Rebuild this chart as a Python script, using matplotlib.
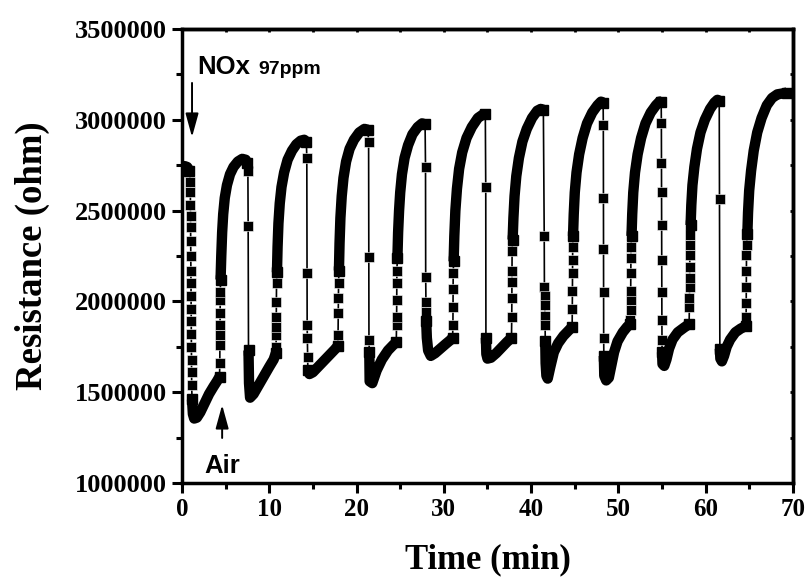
import numpy as np
import matplotlib.pyplot as plt
from matplotlib.ticker import MultipleLocator

# resistance, in units of 1e6 ohm, time in min
# slowly changing stretches (densely sampled): A0, G1, A1, G2, A2, ... G10, A10
band_t = [
    [0.0, 0.3, 0.6, 0.85],
    [1.15, 1.25, 1.4, 1.7, 2.1, 2.6, 3.1, 3.6, 4.0, 4.3],
    [4.42, 4.5, 4.6, 4.72, 4.9, 5.15, 5.5, 5.9, 6.4, 6.9, 7.3, 7.5],
    [7.62, 7.68, 7.8, 8.2, 8.8, 9.4, 10.0, 10.5, 10.75],
    [10.88, 10.95, 11.05, 11.2, 11.4, 11.7, 12.1, 12.6, 13.1, 13.6, 14.0, 14.25],
    [14.42, 14.6, 15.0, 15.5, 16.0, 16.5, 17.0, 17.5, 17.85],
    [17.98, 18.05, 18.15, 18.3, 18.5, 18.8, 19.2, 19.7, 20.3, 20.9, 21.3],
    [21.46, 21.5, 21.8, 22.3, 22.9, 23.6, 24.2, 24.55],
    [24.68, 24.76, 24.87, 25.0, 25.2, 25.5, 25.9, 26.4, 27.0, 27.5, 27.85],
    [27.98, 28.05, 28.2, 28.5, 29.0, 29.6, 30.2, 30.7, 31.0],
    [31.12, 31.2, 31.32, 31.5, 31.75, 32.1, 32.6, 33.2, 33.9, 34.5, 34.75],
    [34.82, 34.87, 35.0, 35.4, 36.0, 36.6, 37.2, 37.75],
    [37.88, 37.97, 38.1, 38.3, 38.6, 39.0, 39.5, 40.1, 40.7, 41.1, 41.4],
    [41.62, 41.66, 41.75, 41.9, 42.2, 42.6, 43.1, 43.7, 44.3, 44.7],
    [44.8, 44.88, 45.0, 45.2, 45.5, 45.9, 46.4, 47.0, 47.6, 48.0, 48.25],
    [48.33, 48.38, 48.6, 48.9, 49.2, 49.5, 49.9, 50.5, 51.0, 51.35],
    [51.5, 51.58, 51.7, 51.9, 52.2, 52.6, 53.1, 53.7, 54.3, 54.7, 54.9],
    [55.0, 55.05, 55.25, 55.5, 55.8, 56.2, 56.8, 57.5, 58.1],
    [58.27, 58.35, 58.48, 58.7, 59.0, 59.4, 59.9, 60.5, 61.0, 61.35, 61.55],
    [61.62, 61.68, 61.85, 62.1, 62.4, 62.8, 63.4, 64.0, 64.6],
    [64.77, 64.85, 64.98, 65.2, 65.5, 65.9, 66.4, 67.0, 67.6, 68.2, 68.8, 69.3],
]
band_r = [
    [2.73, 2.745, 2.74, 2.72],
    [1.46, 1.38, 1.355, 1.36, 1.39, 1.44, 1.49, 1.53, 1.56, 1.585],
    [2.12, 2.25, 2.38, 2.48, 2.57, 2.64, 2.70, 2.74, 2.77, 2.785, 2.78, 2.76],
    [1.73, 1.55, 1.47, 1.49, 1.54, 1.59, 1.64, 1.68, 1.715],
    [2.16, 2.30, 2.43, 2.54, 2.63, 2.71, 2.78, 2.83, 2.865, 2.885, 2.89, 2.88],
    [1.62, 1.60, 1.61, 1.635, 1.66, 1.685, 1.71, 1.735, 1.755],
    [2.17, 2.32, 2.46, 2.58, 2.68, 2.77, 2.84, 2.89, 2.93, 2.95, 2.945],
    [1.72, 1.56, 1.55, 1.62, 1.68, 1.73, 1.76, 1.775],
    [2.24, 2.38, 2.50, 2.60, 2.70, 2.79, 2.86, 2.92, 2.96, 2.98, 2.975],
    [1.89, 1.80, 1.73, 1.70, 1.715, 1.74, 1.765, 1.785, 1.80],
    [2.22, 2.36, 2.50, 2.62, 2.73, 2.82, 2.90, 2.96, 3.01, 3.03, 3.03],
    [1.80, 1.71, 1.685, 1.69, 1.715, 1.745, 1.775, 1.80],
    [2.34, 2.46, 2.58, 2.69, 2.79, 2.88, 2.95, 3.01, 3.05, 3.06, 3.055],
    [1.78, 1.66, 1.59, 1.575, 1.64, 1.72, 1.77, 1.81, 1.84, 1.86],
    [2.36, 2.48, 2.60, 2.71, 2.81, 2.90, 2.98, 3.04, 3.08, 3.10, 3.095],
    [1.70, 1.59, 1.565, 1.58, 1.65, 1.72, 1.78, 1.83, 1.86, 1.875],
    [2.36, 2.48, 2.60, 2.71, 2.81, 2.90, 2.98, 3.04, 3.08, 3.10, 3.10],
    [1.72, 1.655, 1.645, 1.68, 1.74, 1.79, 1.83, 1.855, 1.875],
    [2.42, 2.53, 2.64, 2.74, 2.84, 2.93, 3.00, 3.06, 3.095, 3.11, 3.105],
    [1.74, 1.685, 1.67, 1.70, 1.75, 1.79, 1.83, 1.85, 1.865],
    [2.37, 2.49, 2.61, 2.72, 2.83, 2.93, 3.01, 3.08, 3.12, 3.14, 3.145, 3.15],
]
# sparse points while the gas is switched: D1, U1, D2, U2, ... D10, U10
step_t = [
    [0.95, 0.96, 0.97, 0.98, 0.99, 1.0, 1.01, 1.02, 1.03, 1.04, 1.05, 1.06, 1.07, 1.08, 1.09, 1.10, 1.11],
    [4.33, 4.34, 4.35, 4.36, 4.37, 4.38, 4.39],
    [7.55, 7.58],
    [10.78, 10.79, 10.8, 10.81, 10.82, 10.83],
    [14.3, 14.32, 14.34, 14.36, 14.38],
    [17.88, 17.9, 17.92, 17.94],
    [21.38, 21.4, 21.42],
    [24.58, 24.59, 24.6, 24.61, 24.62],
    [27.9, 27.92, 27.94, 27.96],
    [31.04, 31.05, 31.06, 31.07],
    [34.8],
    [37.78, 37.79, 37.8, 37.81, 37.82],
    [41.5, 41.52, 41.54, 41.56, 41.58, 41.6],
    [44.72, 44.73, 44.74, 44.75, 44.76],
    [48.27, 48.28, 48.29, 48.3, 48.31],
    [51.38, 51.39, 51.4, 51.41, 51.42, 51.43, 51.44],
    [54.92, 54.93, 54.94, 54.95, 54.96, 54.97, 54.98, 54.99],
    [58.13, 58.14, 58.15, 58.16, 58.17, 58.18, 58.19, 58.2],
    [61.58],
    [64.63, 64.64, 64.65, 64.66, 64.67, 64.68],
]
step_r = [
    [2.66, 2.60, 2.53, 2.47, 2.41, 2.33, 2.25, 2.17, 2.10, 2.03, 1.96, 1.89, 1.82, 1.75, 1.68, 1.61, 1.54],
    [1.66, 1.76, 1.815, 1.87, 1.936, 2.01, 2.05],
    [2.72, 2.415],
    [1.75, 1.815, 1.86, 1.914, 1.997, 2.10],
    [2.79, 2.156, 1.87, 1.80, 1.694],
    [1.815, 1.936, 2.02, 2.10],
    [2.88, 2.245, 1.79],
    [1.87, 1.914, 2.01, 2.10, 2.17],
    [2.74, 2.134, 1.997, 1.94],
    [1.87, 1.97, 2.07, 2.156],
    [2.63],
    [1.914, 2.02, 2.107, 2.17, 2.28],
    [2.36, 2.08, 2.03, 1.98, 1.92, 1.87],
    [1.96, 2.06, 2.156, 2.23, 2.30],
    [2.97, 2.57, 2.29, 2.05, 1.80],
    [1.90, 1.95, 2.01, 2.06, 2.156, 2.24, 2.30],
    [2.98, 2.76, 2.60, 2.42, 2.23, 2.05, 1.90, 1.79],
    [1.97, 2.02, 2.08, 2.13, 2.19, 2.255, 2.31, 2.365],
    [2.565],
    [1.914, 1.99, 2.08, 2.17, 2.255, 2.31],
]

# whole record in time order: band, step, band, step, ..., band
all_t, all_r = [], []
for i in range(len(band_t)):
    all_t += band_t[i]
    all_r += band_r[i]
    if i < len(step_t):
        all_t += step_t[i]
        all_r += step_r[i]
all_t = np.array(all_t)
all_r = np.array(all_r) * 1e6

plt.rcParams['font.family'] = ['Liberation Serif', 'DejaVu Serif']
plt.rcParams['font.weight'] = 'bold'

fig = plt.figure(figsize=(8.11, 5.8), dpi=100)
ax = fig.add_axes([0.2244, 0.1672, 0.7534, 0.7828])

ax.plot(all_t, all_r, '-', color='k', lw=1.2, zorder=2)
for t, r in zip(step_t, step_r):
    ax.plot(t, np.array(r) * 1e6, 's', color='k', ms=6.5, mec='white', mew=0.4, zorder=3)
# dense stretches: squares overlap into a solid band
for t, r in zip(band_t, band_r):
    ax.plot(t, np.array(r) * 1e6, '-s', color='k', lw=7.5, ms=7.5,
            markevery=[0, len(t) - 1],
            solid_capstyle='butt', solid_joinstyle='round', zorder=3)

ax.set_xlim(0, 70)
ax.set_ylim(1000000, 3500000)
ax.xaxis.set_major_locator(MultipleLocator(10))
ax.xaxis.set_minor_locator(MultipleLocator(5))
ax.yaxis.set_major_locator(MultipleLocator(500000))
ax.yaxis.set_minor_locator(MultipleLocator(250000))
ax.yaxis.set_major_formatter(plt.FuncFormatter(lambda v, p: '%d' % v))

for s in ax.spines.values():
    s.set_linewidth(2.5)
ax.tick_params(which='major', direction='out', length=7, width=2.2, pad=4)
ax.tick_params(which='minor', direction='out', length=4, width=2.2)
ax.tick_params(axis='x', labelsize=18)
ax.tick_params(axis='y', labelsize=19)
for lab in ax.get_xticklabels() + ax.get_yticklabels():
    lab.set_fontweight('bold')

# short ticks on the top and right frame
sec_x = ax.secondary_xaxis('top')
sec_x.xaxis.set_major_locator(MultipleLocator(10))
sec_x.xaxis.set_minor_locator(MultipleLocator(5))
sec_x.tick_params(which='both', direction='in', length=2.5, width=2, labeltop=False)
sec_y = ax.secondary_yaxis('right')
sec_y.yaxis.set_major_locator(MultipleLocator(500000))
sec_y.yaxis.set_minor_locator(MultipleLocator(250000))
sec_y.tick_params(which='both', direction='in', length=2.5, width=2, labelright=False)
sec_x.spines['top'].set_linewidth(2.5)
sec_y.spines['right'].set_linewidth(2.5)

ax.set_xlabel('Time (min)', fontsize=25, fontweight='bold', labelpad=16)
ax.set_ylabel('Resistance (ohm)', fontsize=26.5, fontweight='bold', labelpad=18)

sans = ['Liberation Sans', 'DejaVu Sans']
ax.text(1.7, 3252000, 'NOx', family=sans, fontsize=18.5, fontweight='bold', va='baseline')
ax.text(8.8, 3252000, '97ppm', family=sans, fontsize=14, fontweight='bold', va='baseline')
ax.text(2.6, 1055000, 'Air', family=sans, fontsize=18.5, fontweight='bold', va='baseline')

arrow = dict(arrowstyle='-|>,head_length=0.8,head_width=0.22', color='k', lw=1.4,
             mutation_scale=18, shrinkA=0, shrinkB=0)
ax.annotate('', xy=(1.15, 2905000), xytext=(1.15, 3203000), arrowprops=arrow)
ax.annotate('', xy=(4.6, 1430000), xytext=(4.6, 1248000), arrowprops=arrow)

fig.savefig('out.png', dpi=100)
